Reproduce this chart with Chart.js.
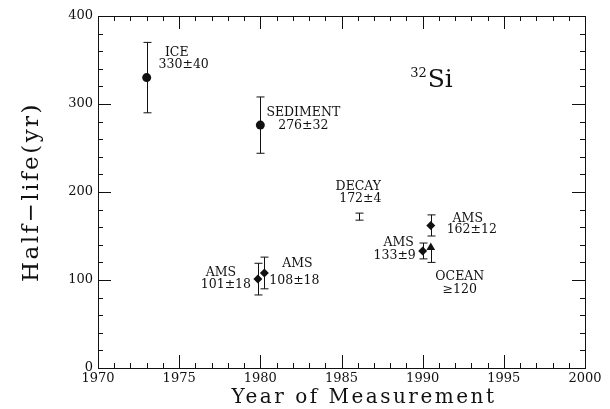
<!DOCTYPE html>
<html>
<head>
<meta charset="utf-8">
<script src="https://cdn.jsdelivr.net/npm/chart.js@4.4.0/dist/chart.umd.min.js"></script>
<style>
  html, body { margin: 0; padding: 0; background: #ffffff; }
  #wrap { width: 610px; height: 409px; position: relative; }
</style>
</head>
<body>
<div id="wrap"><canvas id="c" width="610" height="409"></canvas></div>
<script>
// ---- data ----
const categories   = ['ICE', 'SEDIMENT', 'DECAY', 'AMS', 'AMS', 'AMS', 'AMS', 'OCEAN'];
const valueLabels  = ['330±40', '276±32', '172±4', '101±18', '108±18', '133±9', '162±12', '≥120'];
const years        = [1973.0, 1980.0, 1986.1, 1979.85, 1980.25, 1990.0, 1990.5, 1990.5];
const halfLives    = [330, 276, 172, 101, 108, 133, 162, 137];
const errMinus     = [40, 32, 4, 18, 18, 9, 12, 17];
const errPlus      = [40, 32, 4, 18, 18, 9, 12, 0];
const markerStyles = ['circle', 'circle', 'none', 'rectRot', 'rectRot', 'rectRot', 'rectRot', 'triangle'];
const xRange = [1970, 2000];
const yRange = [0, 400];
const xTitle = 'Year of Measurement';
const yTitle = 'Half\u2212life(yr)';
const isotopeMass = '32';
const isotopeSymbol = 'Si';

const SERIF = '"DejaVu Serif", "Liberation Serif", serif';
const INK = '#111';

// label placement (pixel offsets from each point: line1 dx, dy, line2 dx, dy)
const labelOffsets = [
  [30, -25, 37, -13],
  [43, -12, 43, 1],
  [-1, -30, 1, -18],
  [-37, -6, -32, 6],
  [33, -9, 30, 8],
  [-24, -8, -28, 5],
  [37, -7, 41, 4],
  [29, 29, 29, 42]
];

const decorPlugin = {
  id: 'decor',
  beforeDatasetsDraw(chart) {
    const ctx = chart.ctx, xs = chart.scales.x, ys = chart.scales.y;
    ctx.save();
    ctx.strokeStyle = INK;
    ctx.lineWidth = 1;
    for (let i = 0; i < years.length; i++) {
      const px = Math.round(xs.getPixelForValue(years[i])) + 0.5;
      const lo = ys.getPixelForValue(halfLives[i] - errMinus[i]);
      const hi = ys.getPixelForValue(halfLives[i] + errPlus[i]);
      ctx.beginPath();
      ctx.moveTo(px, lo); ctx.lineTo(px, hi);
      if (errMinus[i] > 0) { ctx.moveTo(px - 4, lo); ctx.lineTo(px + 4, lo); }
      if (errPlus[i] > 0) { ctx.moveTo(px - 4, hi); ctx.lineTo(px + 4, hi); }
      ctx.stroke();
    }
    ctx.restore();
  },
  afterDatasetsDraw(chart) {
    const ctx = chart.ctx, xs = chart.scales.x, ys = chart.scales.y;
    const a = chart.chartArea;
    ctx.save();
    // frame
    ctx.strokeStyle = INK;
    ctx.lineWidth = 1;
    ctx.strokeRect(Math.round(a.left) + 0.5, Math.round(a.top) + 0.5,
                   Math.round(a.right - a.left), Math.round(a.bottom - a.top));
    // inward ticks
    ctx.beginPath();
    for (let yr = xRange[0]; yr <= xRange[1]; yr++) {
      const px = Math.round(xs.getPixelForValue(yr)) + 0.5;
      const len = (yr % 5 === 0) ? 13 : 5;
      ctx.moveTo(px, a.bottom); ctx.lineTo(px, a.bottom - len);
      ctx.moveTo(px, a.top); ctx.lineTo(px, a.top + len);
    }
    for (let v = yRange[0]; v <= yRange[1]; v += 20) {
      const py = Math.round(ys.getPixelForValue(v)) + 0.5;
      const len = (v % 100 === 0) ? 13 : 5;
      ctx.moveTo(a.left, py); ctx.lineTo(a.left + len, py);
      ctx.moveTo(a.right, py); ctx.lineTo(a.right - len, py);
    }
    ctx.stroke();

    // annotations
    ctx.fillStyle = INK;
    ctx.font = '12.5px ' + SERIF;
    ctx.textAlign = 'center';
    ctx.textBaseline = 'middle';
    for (let i = 0; i < years.length; i++) {
      const px = xs.getPixelForValue(years[i]);
      const py = ys.getPixelForValue(halfLives[i]);
      const o = labelOffsets[i];
      ctx.fillText(categories[i], px + o[0], py + o[1]);
      ctx.fillText(valueLabels[i], px + o[2], py + o[3]);
    }

    // isotope label
    const ix = xs.getPixelForValue(1990.25), iy = ys.getPixelForValue(319);
    ctx.textAlign = 'right';
    ctx.textBaseline = 'alphabetic';
    ctx.font = '13px ' + SERIF;
    ctx.fillText(isotopeMass, ix, iy - 10);
    ctx.textAlign = 'left';
    ctx.font = '25px ' + SERIF;
    ctx.fillText(isotopeSymbol, ix + 1, iy);

    // axis titles
    ctx.textAlign = 'center';
    ctx.textBaseline = 'middle';
    ctx.font = '20px ' + SERIF;
    if ('letterSpacing' in ctx) ctx.letterSpacing = '2.5px';
    ctx.fillText(xTitle, 364, 398);
    ctx.font = '23px ' + SERIF;
    if ('letterSpacing' in ctx) ctx.letterSpacing = '2.5px';
    ctx.translate(32, 192);
    ctx.rotate(-Math.PI / 2);
    ctx.fillText(yTitle, 0, 0);
    ctx.restore();
  }
};

new Chart(document.getElementById('c'), {
  type: 'scatter',
  data: {
    datasets: [{
      data: years.map((x, i) => ({ x: x, y: halfLives[i] })),
      pointStyle: markerStyles.map(s => s === 'none' ? 'circle' : s),
      pointRadius: markerStyles.map(s => s === 'none' ? 0 : (s === 'circle' ? 4.5 : (s === 'triangle' ? 5 : 4.5))),
      pointHoverRadius: markerStyles.map(s => s === 'none' ? 0 : 5),
      backgroundColor: INK,
      borderColor: INK,
      borderWidth: 0
    }]
  },
  options: {
    responsive: false,
    animation: false,
    devicePixelRatio: 1,
    layout: { padding: { top: 16, right: 25, left: 0, bottom: 0 } },
    plugins: { legend: { display: false }, tooltip: { enabled: false } },
    scales: {
      x: {
        type: 'linear', min: xRange[0], max: xRange[1],
        ticks: { stepSize: 5, color: INK, font: { family: SERIF, size: 13 }, padding: 3,
                 maxRotation: 0, callback: v => String(v) },
        grid: { display: false, drawTicks: false },
        border: { display: false },
        afterFit: s => { s.height = 41; }
      },
      y: {
        type: 'linear', min: yRange[0], max: yRange[1],
        ticks: { stepSize: 100, color: INK, font: { family: SERIF, size: 13 }, padding: 5 },
        grid: { display: false, drawTicks: false },
        border: { display: false },
        afterFit: s => { s.width = 98; }
      }
    }
  },
  plugins: [decorPlugin]
});
</script>
</body>
</html>
